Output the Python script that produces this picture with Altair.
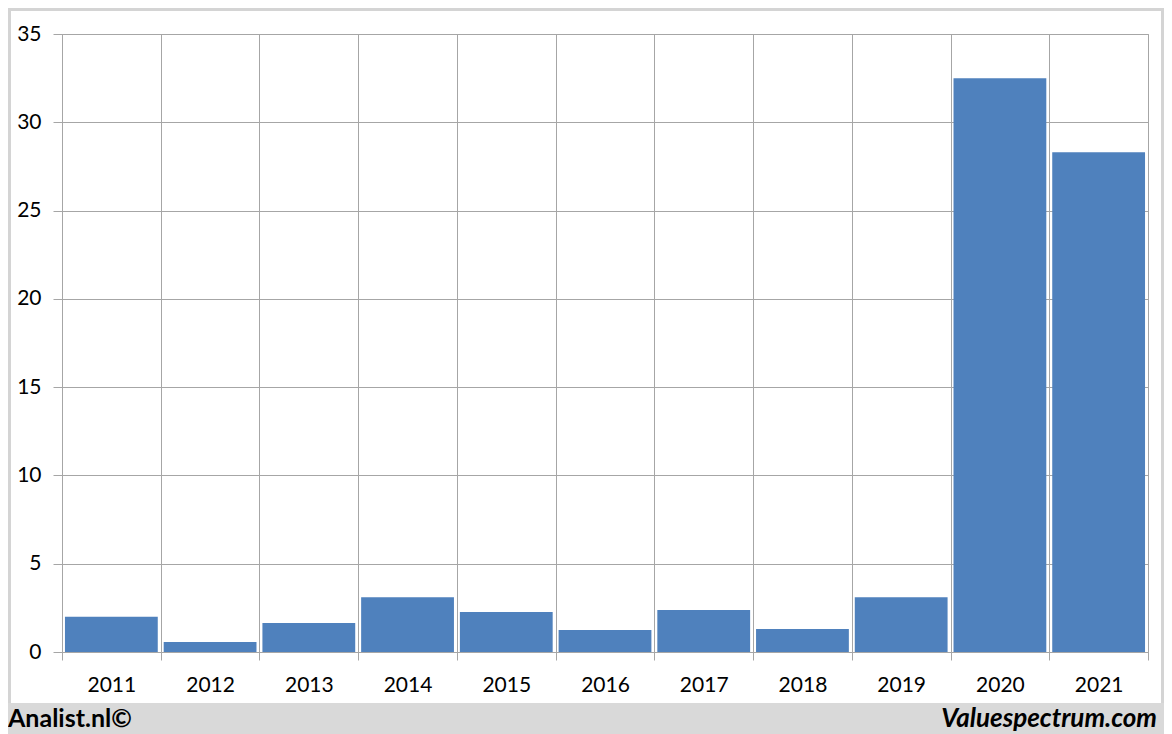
import altair as alt
import pandas as pd

years = ["2011", "2012", "2013", "2014", "2015", "2016", "2017", "2018", "2019", "2020", "2021"]
values = [2.0, 0.57, 1.64, 3.1, 2.27, 1.25, 2.38, 1.3, 3.1, 32.5, 28.3]
y_ticks = [0, 5, 10, 15, 20, 25, 30, 35]
footer_left = ["Analist.nl©"]
footer_right = ["Valuespectrum.com"]

W, H = 1086, 618
PAD_L, PAD_T, PAD_R, PAD_B = 54, 26, 16, 82
GRID = "#a6a6a6"
FONT = "Lato"

df = pd.DataFrame({"year": years, "value": values})
one = pd.DataFrame({"k": [0]})

frame = alt.Chart(one).mark_rect(filled=False, stroke="#d4d4d4", strokeWidth=6).encode(
    x=alt.value(-PAD_L), x2=alt.value(W + PAD_R),
    y=alt.value(-PAD_T), y2=alt.value(H + PAD_B),
)
footer = alt.Chart(one).mark_rect(fill="#d9d9d9").encode(
    x=alt.value(-PAD_L), x2=alt.value(W + PAD_R),
    y=alt.value(H + 51), y2=alt.value(H + PAD_B),
)
left_txt = alt.Chart(pd.DataFrame({"t": footer_left})).mark_text(
    align="left", baseline="alphabetic", font=FONT, fontSize=25, fontWeight="bold", color="black"
).encode(x=alt.value(-PAD_L), y=alt.value(H + 75), text="t:N")
right_txt = alt.Chart(pd.DataFrame({"t": footer_right})).mark_text(
    align="right", baseline="alphabetic", font=FONT, fontSize=26, fontWeight="bold",
    fontStyle="italic", color="black"
).encode(x=alt.value(W + 9), y=alt.value(H + 75), text="t:N")

bars = alt.Chart(df).mark_bar(color="#4f81bd", width=alt.RelativeBandSize(0.94)).encode(
    x=alt.X("year:N", sort=years,
            scale=alt.Scale(paddingInner=0, paddingOuter=0),
            axis=alt.Axis(title=None, labelAngle=0, tickBand="extent", grid=True,
                          gridColor=GRID, gridWidth=1, tickColor=GRID, tickSize=8,
                          domain=False, labelFont=FONT, labelFontSize=21,
                          labelColor="black", labelPadding=14)),
    y=alt.Y("value:Q", scale=alt.Scale(domain=[0, 35], nice=False, zero=True),
            axis=alt.Axis(title=None, values=y_ticks, grid=True, gridColor=GRID,
                          gridWidth=1, tickColor=GRID, tickSize=9, domain=False,
                          labelFont=FONT, labelFontSize=21, labelColor="black",
                          labelPadding=12)),
)

chart = alt.layer(frame, footer, left_txt, right_txt, bars).properties(
    width=W, height=H,
    autosize=alt.AutoSizeParams(type="none"),
    padding={"left": PAD_L, "top": PAD_T, "right": PAD_R, "bottom": PAD_B},
    background="white",
).configure_view(stroke=GRID, strokeWidth=1)

chart.save("out.html", embed_options={"renderer": "svg", "actions": False})
